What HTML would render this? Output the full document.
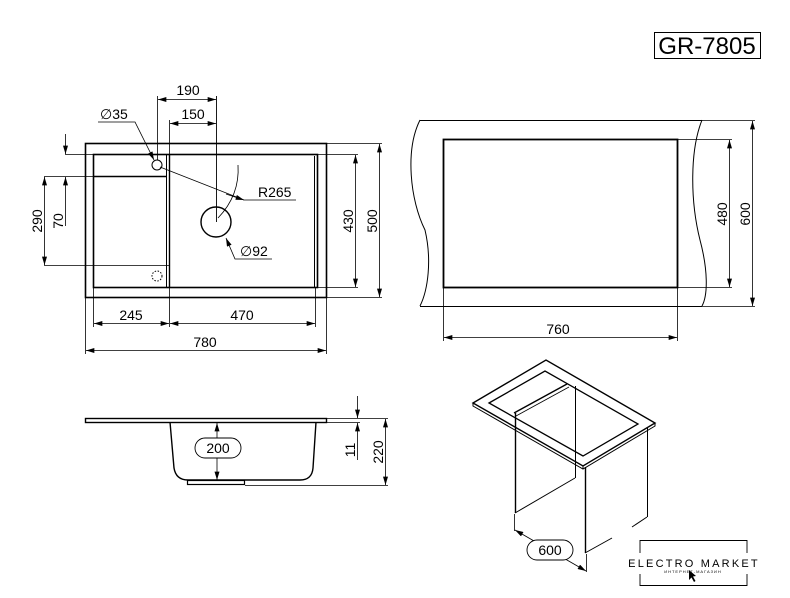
<!DOCTYPE html>
<html><head><meta charset="utf-8"><style>
html,body{margin:0;padding:0;background:#fff;}
svg{display:block;font-family:"Liberation Sans",sans-serif;}
</style></head><body>
<svg width="790" height="598" viewBox="0 0 790 598" xmlns="http://www.w3.org/2000/svg">
<defs>
<marker id="a" viewBox="0 0 10 6" refX="10" refY="3" markerWidth="9" markerHeight="5" orient="auto-start-reverse" markerUnits="userSpaceOnUse"><path d="M0,0 L10,3 L0,6 z" fill="#000"/></marker>
</defs>
<g fill="none" stroke="#000" stroke-width="1">
<rect x="654.5" y="32.5" width="106" height="26"/>
<rect x="85.5" y="143.5" width="241" height="154" stroke-width="1.6"/>
<rect x="93.5" y="154.5" width="224" height="133" stroke-width="1.6"/>
<line x1="166.5" y1="154" x2="166.5" y2="287"/>
<line x1="169.5" y1="154" x2="169.5" y2="287" stroke-width="1.4"/>
<line x1="314.5" y1="156" x2="314.5" y2="287"/>
<line x1="93" y1="176.5" x2="166" y2="176.5" stroke-width="1.4"/>
<line x1="44" y1="176.5" x2="93" y2="176.5" stroke-width="0.8"/>
<line x1="44" y1="265.5" x2="169" y2="265.5" stroke-width="0.8"/>
<line x1="65" y1="154.5" x2="93" y2="154.5" stroke-width="0.8"/>
<circle cx="157" cy="165" r="5"/>
<circle cx="157" cy="276" r="5" stroke-dasharray="1.5,1.5"/>
<circle cx="216" cy="222" r="15" stroke-width="1.4"/>
<line x1="157.5" y1="96" x2="157.5" y2="160" stroke-width="0.8"/>
<line x1="216.5" y1="96" x2="216.5" y2="222" stroke-width="0.9"/>
<line x1="169.5" y1="120" x2="169.5" y2="154" stroke-width="0.8"/>
<line x1="158" y1="99.5" x2="216" y2="99.5" stroke-width="0.8" marker-start="url(#a)" marker-end="url(#a)"/>
<line x1="170" y1="123.5" x2="216" y2="123.5" stroke-width="0.8" marker-start="url(#a)" marker-end="url(#a)"/>
<polyline points="98,122 135,122 154,160" stroke-width="0.8" marker-end="url(#a)"/>
<polyline points="160,167 244,200 296,200" stroke-width="0.8"/>
<line x1="226" y1="194" x2="244" y2="200" stroke-width="0.8" marker-end="url(#a)"/>
<path d="M238,165 Q240,195 218,218" stroke-width="0.8"/>
<polyline points="272,259 235,259 226,238" stroke-width="0.8" marker-end="url(#a)"/>
<line x1="44.5" y1="177" x2="44.5" y2="265" stroke-width="0.8" marker-start="url(#a)" marker-end="url(#a)"/>
<line x1="65.5" y1="134" x2="65.5" y2="154" stroke-width="0.8" marker-end="url(#a)"/>
<line x1="65.5" y1="226" x2="65.5" y2="177" stroke-width="0.8" marker-end="url(#a)"/>
<line x1="317" y1="154.5" x2="358" y2="154.5" stroke-width="0.8"/>
<line x1="317" y1="287.5" x2="358" y2="287.5" stroke-width="0.8"/>
<line x1="326" y1="143.5" x2="382" y2="143.5" stroke-width="0.8"/>
<line x1="326" y1="297.5" x2="382" y2="297.5" stroke-width="0.8"/>
<line x1="355.5" y1="155" x2="355.5" y2="287" stroke-width="0.8" marker-start="url(#a)" marker-end="url(#a)"/>
<line x1="379.5" y1="144" x2="379.5" y2="297" stroke-width="0.8" marker-start="url(#a)" marker-end="url(#a)"/>
<line x1="93.5" y1="287" x2="93.5" y2="327" stroke-width="0.8"/>
<line x1="169.5" y1="287" x2="169.5" y2="327" stroke-width="0.8"/>
<line x1="315.5" y1="287" x2="315.5" y2="327" stroke-width="0.8"/>
<line x1="85.5" y1="297" x2="85.5" y2="354" stroke-width="0.8"/>
<line x1="326.5" y1="297" x2="326.5" y2="354" stroke-width="0.8"/>
<line x1="94" y1="323.5" x2="169" y2="323.5" stroke-width="0.8" marker-start="url(#a)" marker-end="url(#a)"/>
<line x1="170" y1="323.5" x2="315" y2="323.5" stroke-width="0.8" marker-start="url(#a)" marker-end="url(#a)"/>
<line x1="86" y1="350.5" x2="326" y2="350.5" stroke-width="0.8" marker-start="url(#a)" marker-end="url(#a)"/>
<line x1="420" y1="120.5" x2="702" y2="120.5"/>
<line x1="420" y1="306.5" x2="702" y2="306.5"/>
<path d="M420,120 C405,150 410,200 425,230 C432,260 428,290 420,306"/>
<path d="M702,120 C690,150 690,200 700,240 C708,270 708,295 702,306"/>
<rect x="443.5" y="139.5" width="234" height="148" stroke-width="1.8"/>
<line x1="678" y1="139.5" x2="732" y2="139.5" stroke-width="0.8"/>
<line x1="678" y1="287.5" x2="732" y2="287.5" stroke-width="0.8"/>
<line x1="702" y1="120.5" x2="755" y2="120.5" stroke-width="0.8"/>
<line x1="702" y1="306.5" x2="755" y2="306.5" stroke-width="0.8"/>
<line x1="729.5" y1="140" x2="729.5" y2="287" stroke-width="0.8" marker-start="url(#a)" marker-end="url(#a)"/>
<line x1="752.5" y1="121" x2="752.5" y2="306" stroke-width="0.8" marker-start="url(#a)" marker-end="url(#a)"/>
<line x1="443.5" y1="288" x2="443.5" y2="341" stroke-width="0.8"/>
<line x1="677.5" y1="288" x2="677.5" y2="341" stroke-width="0.8"/>
<line x1="444" y1="337.5" x2="677" y2="337.5" stroke-width="0.8" marker-start="url(#a)" marker-end="url(#a)"/>
<rect x="85.5" y="418.5" width="241" height="4" stroke-width="1.4"/>
<path d="M170,422 L174,468 Q176,480 188,480 L300,480 Q312,480 313,468 L316,422" stroke-width="1.4"/>
<rect x="187.5" y="480.5" width="57" height="4" stroke-width="1.2"/>
<line x1="217" y1="423" x2="217" y2="480" stroke-width="0.8" marker-start="url(#a)" marker-end="url(#a)"/>
<rect x="195" y="438" width="46" height="20" rx="10" fill="#fff" stroke-width="0.9"/>
<line x1="326" y1="418.5" x2="388" y2="418.5" stroke-width="0.8"/>
<line x1="316" y1="422.5" x2="360" y2="422.5" stroke-width="0.8"/>
<line x1="245" y1="485.5" x2="388" y2="485.5" stroke-width="0.8"/>
<line x1="357.5" y1="396" x2="357.5" y2="418" stroke-width="0.8" marker-end="url(#a)"/>
<line x1="357.5" y1="460" x2="357.5" y2="423" stroke-width="0.8" marker-end="url(#a)"/>
<line x1="385.5" y1="419" x2="385.5" y2="485" stroke-width="0.8" marker-start="url(#a)" marker-end="url(#a)"/>
<polygon points="473,403 546,360 655,423 583,466" stroke-width="1.4" fill="#fff"/>
<polyline points="473,403 473,406 583,469 655,426 655,423" stroke-width="1"/>
<line x1="583" y1="466" x2="583" y2="469"/>
<polygon points="489,403 545,371 638,424 583,456" stroke-width="1.3"/>
<line x1="514" y1="413" x2="567" y2="384" stroke-width="1.4"/>
<line x1="516" y1="416" x2="569" y2="387" stroke-width="0.8"/>
<line x1="515.5" y1="413" x2="515.5" y2="513" stroke-width="1.4"/>
<line x1="575.5" y1="386" x2="575.5" y2="478"/>
<line x1="515" y1="513" x2="575" y2="478"/>
<line x1="585.5" y1="467" x2="585.5" y2="553" stroke-width="1.4"/>
<line x1="647.5" y1="428" x2="647.5" y2="517"/>
<line x1="585" y1="553" x2="612" y2="538"/>
<line x1="632" y1="527" x2="647" y2="517"/>
<line x1="514.5" y1="514" x2="514.5" y2="531" stroke-width="0.8"/>
<line x1="586.5" y1="554" x2="586.5" y2="572" stroke-width="0.8"/>
<line x1="515" y1="530" x2="586" y2="571" stroke-width="0.8" marker-start="url(#a)" marker-end="url(#a)"/>
<rect x="527" y="540" width="46" height="20" rx="10" fill="#fff" stroke-width="0.9"/>
<polyline points="640,553 640,540.5 747,540.5 747,553" stroke-width="0.9"/>
<polyline points="640,574 640,585.5 747,585.5 747,574" stroke-width="0.9"/>
</g>
<path d="M689,570 L689,580 L691.5,577.5 L694,582 L695.5,581 L693,576.5 L696,576 z" fill="#000"/>
<g fill="#000">
<text x="707" y="54" font-size="24" text-anchor="middle">GR-7805</text>
<text x="188" y="95" font-size="14" text-anchor="middle">190</text>
<text x="193" y="119" font-size="14" text-anchor="middle">150</text>
<text x="100" y="119" font-size="14">∅35</text>
<text x="258" y="197" font-size="14">R265</text>
<text x="240" y="256" font-size="14">∅92</text>
<text transform="translate(42,221) rotate(-90)" font-size="14" text-anchor="middle">290</text>
<text transform="translate(63,221) rotate(-90)" font-size="14" text-anchor="middle">70</text>
<text transform="translate(353,221) rotate(-90)" font-size="14" text-anchor="middle">430</text>
<text transform="translate(377,221) rotate(-90)" font-size="14" text-anchor="middle">500</text>
<text x="131" y="320" font-size="14" text-anchor="middle">245</text>
<text x="242" y="320" font-size="14" text-anchor="middle">470</text>
<text x="205" y="347" font-size="14" text-anchor="middle">780</text>
<text transform="translate(727,214) rotate(-90)" font-size="14" text-anchor="middle">480</text>
<text transform="translate(750,214) rotate(-90)" font-size="14" text-anchor="middle">600</text>
<text x="558" y="334" font-size="14" text-anchor="middle">760</text>
<text x="218" y="453" font-size="14" text-anchor="middle">200</text>
<text transform="translate(355,450) rotate(-90)" font-size="14" text-anchor="middle">11</text>
<text transform="translate(383,452) rotate(-90)" font-size="14" text-anchor="middle">220</text>
<text x="550" y="555" font-size="14" text-anchor="middle">600</text>
<text x="694" y="567" font-size="11" text-anchor="middle" letter-spacing="2.2">ELECTRO MARKET</text>
<text x="693" y="573" font-size="4" text-anchor="middle" letter-spacing="1">ИНТЕРНЕТ-МАГАЗИН</text>
</g>
</svg>
</body></html>
